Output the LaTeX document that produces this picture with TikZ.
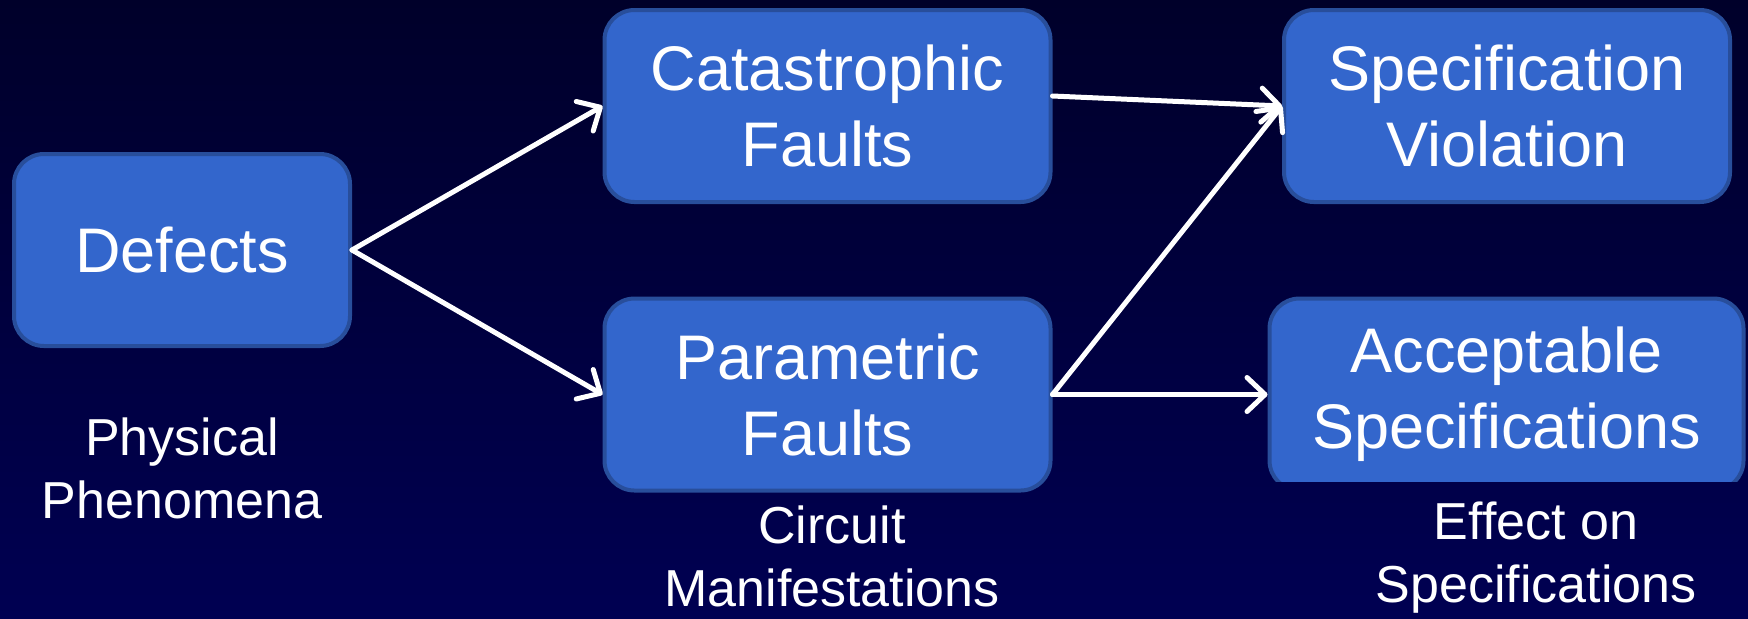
\documentclass[tikz,border=0pt]{standalone}
\usepackage{fontspec}
\setmainfont{Liberation Sans}
\usetikzlibrary{arrows.meta}
\definecolor{bgtop}{RGB}{0,0,42}
\definecolor{bgbot}{RGB}{0,0,82}
\definecolor{boxfill}{RGB}{51,102,204}
\definecolor{boxedge}{RGB}{40,78,155}
\tikzset{
  blockbox/.style={rounded corners=15pt, fill=boxfill, draw=boxedge, line width=2pt,
    inner sep=0pt, align=center, text=white, font=\fontsize{31.5}{38}\selectfont},
  caption/.style={inner sep=0pt, align=center, text=white, anchor=north,
    font=\fontsize{26}{31.5}\selectfont},
  flow/.style={draw=white, line width=2.5pt, line cap=round,
    -{Straight Barb[length=9pt,width=17pt,round]}}
}
\begin{document}
\begin{tikzpicture}[x=0.5pt,y=-0.5pt]
\shade[top color=bgtop, bottom color=bgbot] (0,0) rectangle (1748,618);
\useasboundingbox (0,0) rectangle (1748,618);
\node[blockbox, minimum width=168pt, minimum height=96pt] (def) at (182,250) {Defects};
\node[blockbox, minimum width=223pt, minimum height=96pt] (cat) at (827.5,106) {Catastrophic\\Faults};
\node[blockbox, minimum width=223pt, minimum height=96pt] (par) at (827.5,394.5) {Parametric\\Faults};
\node[blockbox, minimum width=223pt, minimum height=96pt] (spec) at (1507,106) {Specification\\Violation};
\begin{scope}
\clip (0,0) rectangle (1748,481);
\node[blockbox, minimum width=237pt, minimum height=96pt] (acc) at (1506.5,394.5) {Acceptable\\Specifications};
\end{scope}
\node[caption] (phys) at (182,417) {Physical\\Phenomena};
\node[caption] (circ) at (832,505) {Circuit\\Manifestations};
\node[caption] (eff) at (1536,501) {Effect on\\Specifications};
\draw[flow] (def.east) -- (cat.west);
\draw[flow] (def.east) -- (par.west);
\draw[flow] ([yshift=5pt]cat.east) -- (spec.west);
\draw[flow] (par.east) -- (spec.west);
\draw[flow] (par.east) -- (acc.west);
\end{tikzpicture}
\end{document}
